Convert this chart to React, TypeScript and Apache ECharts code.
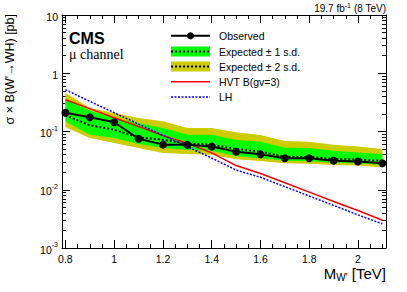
import React, { useEffect, useRef } from "react";
import * as echarts from "echarts";

const masses = [0.8, 0.9, 1.0, 1.1, 1.2, 1.3, 1.4, 1.5, 1.6, 1.7, 1.8, 1.9, 2.0, 2.1];
const observed = [0.21, 0.175, 0.144, 0.075, 0.0595, 0.059, 0.055, 0.045, 0.0405, 0.0347, 0.0347, 0.0316, 0.0305, 0.0285];
const expected = [0.19, 0.128, 0.107, 0.079, 0.072, 0.062, 0.059, 0.05, 0.045, 0.0368, 0.0365, 0.0337, 0.033, 0.0312];
const exp1Lo = [0.15, 0.088, 0.077, 0.061, 0.052, 0.0485, 0.0468, 0.038, 0.0346, 0.0316, 0.031, 0.0292, 0.0285, 0.0266];
const exp1Hi = [0.35, 0.228, 0.17, 0.139, 0.115, 0.088, 0.088, 0.0714, 0.0665, 0.0527, 0.052, 0.0465, 0.0438, 0.0405];
const exp2Lo = [0.118, 0.077, 0.0635, 0.052, 0.0428, 0.0412, 0.04, 0.0335, 0.0313, 0.0285, 0.028, 0.0266, 0.026, 0.0243];
const exp2Hi = [0.46, 0.253, 0.208, 0.17, 0.15, 0.115, 0.115, 0.097, 0.087, 0.069, 0.067, 0.059, 0.055, 0.05];
const hvt = [0.35, 0.247, 0.172, 0.122, 0.085, 0.063, 0.043, 0.026, 0.019, 0.0132, 0.0091, 0.0063, 0.0044, 0.003];
const lh = [0.52, 0.33, 0.21, 0.134, 0.086, 0.055, 0.035, 0.0218, 0.0164, 0.0113, 0.0078, 0.0054, 0.0037, 0.0026];

const xMajorTicks = [0.8, 1, 1.2, 1.4, 1.6, 1.8, 2];
const xMinorTicks = [0.8, 0.85, 0.9, 0.95, 1, 1.05, 1.1, 1.15, 1.2, 1.25, 1.3, 1.35, 1.4, 1.45, 1.5, 1.55, 1.6, 1.65, 1.7, 1.75, 1.8, 1.85, 1.9, 1.95, 2, 2.05, 2.1];
const yDecades = [-3, -2, -1, 0, 1];
const yMinorMantissas = [2, 3, 4, 5, 6, 7, 8, 9];

const FONT = "Liberation Sans";

export default function App() {
  const ref = useRef<HTMLDivElement>(null);
  useEffect(() => {
    if (!ref.current) return;
    const chart = echarts.init(ref.current, undefined, { renderer: "svg" });
    const yMinor: number[] = [];
    yDecades.slice(0, 4).forEach((d) => yMinorMantissas.forEach((m) => yMinor.push(d + Math.log10(m))));

    const band = (lo: number[], hi: number[], color: string, z: number) => ({
      type: "custom",
      coordinateSystem: "cartesian2d",
      xAxisIndex: 0,
      yAxisIndex: 0,
      z,
      silent: true,
      clip: true,
      data: masses.map((m, i) => [m, lo[i], hi[i]]),
      encode: { x: 0, y: [1, 2] },
      renderItem: (params: any, api: any) => {
        if (params.dataIndex !== 0) return null;
        const top = masses.map((m, i) => api.coord([m, hi[i]]));
        const bot = masses.map((m, i) => api.coord([m, lo[i]])).reverse();
        return { type: "polygon", shape: { points: top.concat(bot) }, style: { fill: color } };
      },
    });

    const xBase = { type: "value", min: 0.786, max: 2.115, splitLine: { show: false } };
    const yLinBase = { type: "value", min: -3, max: 1, splitLine: { show: false } };
    const lineStyleAxis = { color: "#000", width: 1 };

    const legendX0 = 171, legendX1 = 210, textX = 219;
    const rows = [35.7, 51.5, 66.5, 81.7, 97];
    const legendText = (y: number, s: string) => ({
      type: "text", x: textX, y, style: { text: s, font: `10.5px '${FONT}'`, fill: "#000", verticalAlign: "middle" },
    });

    chart.setOption({
      animation: false,
      grid: { left: 62, right: 21, top: 15, bottom: 44, containLabel: false, outerBoundsMode: "none" },
      xAxis: [
        {
          ...xBase, position: "bottom",
          axisLine: { show: true, onZero: false, lineStyle: lineStyleAxis },
          axisTick: { show: true, inside: true, length: 8, customValues: xMajorTicks, lineStyle: lineStyleAxis },
          axisLabel: { show: true, customValues: xMajorTicks, formatter: (v: number) => String(v), fontFamily: FONT, fontSize: 10.5, color: "#000", margin: 5 },
        },
        {
          ...xBase, position: "bottom",
          axisLine: { show: false, onZero: false },
          axisTick: { show: true, inside: true, length: 4, customValues: xMinorTicks, lineStyle: lineStyleAxis },
          axisLabel: { show: false },
        },
        {
          ...xBase, position: "top",
          axisLine: { show: true, onZero: false, lineStyle: lineStyleAxis },
          axisTick: { show: true, inside: true, length: 8, customValues: xMajorTicks, lineStyle: lineStyleAxis },
          axisLabel: { show: false },
        },
        {
          ...xBase, position: "top",
          axisLine: { show: false, onZero: false },
          axisTick: { show: true, inside: true, length: 4, customValues: xMinorTicks, lineStyle: lineStyleAxis },
          axisLabel: { show: false },
        },
      ],
      yAxis: [
        { type: "log", logBase: 10, min: 0.001, max: 10, show: false, splitLine: { show: false }, axisLine: { onZero: false } },
        {
          ...yLinBase, position: "left",
          axisLine: { show: true, onZero: false, lineStyle: lineStyleAxis },
          axisTick: { show: true, inside: true, length: 8, customValues: yDecades, lineStyle: lineStyleAxis },
          axisLabel: {
            show: true, customValues: yDecades, margin: 4, color: "#000",
            formatter: (v: number) => (v === 1 ? "{b|10}" : v === 0 ? "{b|1}" : `{b|10}{s|${v}}`),
            rich: {
              b: { fontFamily: FONT, fontSize: 10.5, lineHeight: 14, verticalAlign: "bottom", color: "#000" },
              s: { fontFamily: FONT, fontSize: 7, lineHeight: 8, verticalAlign: "top", color: "#000" },
            },
          },
        },
        {
          ...yLinBase, position: "left",
          axisLine: { show: false, onZero: false },
          axisTick: { show: true, inside: true, length: 4, customValues: yMinor, lineStyle: lineStyleAxis },
          axisLabel: { show: false },
        },
        {
          ...yLinBase, position: "right",
          axisLine: { show: true, onZero: false, lineStyle: lineStyleAxis },
          axisTick: { show: true, inside: true, length: 8, customValues: yDecades, lineStyle: lineStyleAxis },
          axisLabel: { show: false },
        },
        {
          ...yLinBase, position: "right",
          axisLine: { show: false, onZero: false },
          axisTick: { show: true, inside: true, length: 4, customValues: yMinor, lineStyle: lineStyleAxis },
          axisLabel: { show: false },
        },
      ],
      series: [
        band(exp2Lo, exp2Hi, "#cccc00", 1),
        band(exp1Lo, exp1Hi, "#00ff00", 2),
        {
          type: "line", name: "Expected", xAxisIndex: 0, yAxisIndex: 0, z: 3,
          data: masses.map((m, i) => [m, expected[i]]), showSymbol: false, symbol: "none",
          lineStyle: { color: "#000", width: 2, type: [2, 2] },
        },
        {
          type: "line", name: "HVT", xAxisIndex: 0, yAxisIndex: 0, z: 4,
          data: masses.map((m, i) => [m, hvt[i]]), symbol: "none",
          lineStyle: { color: "#ff0000", width: 1.5 },
        },
        {
          type: "line", name: "LH", xAxisIndex: 0, yAxisIndex: 0, z: 4,
          data: masses.map((m, i) => [m, lh[i]]), symbol: "none",
          lineStyle: { color: "#0000ff", width: 1.5, type: [2, 1.5] },
        },
        {
          type: "line", name: "Observed", xAxisIndex: 0, yAxisIndex: 0, z: 5,
          data: masses.map((m, i) => [m, observed[i]]), symbol: "circle", symbolSize: 8, showSymbol: true,
          itemStyle: { color: "#000" },
          lineStyle: { color: "#000", width: 2 },
        },
      ],
      graphic: [
        {
          type: "text", x: 386, y: 7.5,
          style: {
            text: "{a|19.7 fb}{s|-1}{a| (8 TeV)}", align: "right", verticalAlign: "middle",
            rich: {
              a: { fontFamily: FONT, fontSize: 10, lineHeight: 12, verticalAlign: "bottom", fill: "#000" },
              s: { fontFamily: FONT, fontSize: 7, lineHeight: 7, verticalAlign: "top", fill: "#000" },
            },
          },
        },
        { type: "text", x: 69, y: 38, style: { text: "CMS", font: `bold 16px '${FONT}'`, fill: "#000", verticalAlign: "middle" } },
        { type: "text", x: 69, y: 54, style: { text: "μ channel", font: "14px 'Liberation Serif'", fill: "#000", verticalAlign: "middle" } },
        {
          type: "text", x: 10, y: 14, rotation: Math.PI / 2,
          style: { text: "σ × B(W'→WH) [pb]", font: `12.5px '${FONT}'`, fill: "#000", align: "right", verticalAlign: "middle" },
        },
        {
          type: "text", x: 386, y: 274,
          style: {
            text: "{m|M}{sub|W'}{m| [TeV]}", align: "right", verticalAlign: "middle",
            rich: {
              m: { fontFamily: FONT, fontSize: 15, lineHeight: 16, verticalAlign: "top", fill: "#000" },
              sub: { fontFamily: FONT, fontSize: 10, lineHeight: 10, verticalAlign: "bottom", fill: "#000" },
            },
          },
        },
        // legend
        { type: "line", shape: { x1: legendX0, y1: rows[0], x2: legendX1, y2: rows[0] }, style: { stroke: "#000", lineWidth: 2 } },
        { type: "circle", shape: { cx: (legendX0 + legendX1) / 2, cy: rows[0], r: 3.5 }, style: { fill: "#000" } },
        legendText(rows[0], "Observed"),
        { type: "rect", shape: { x: legendX0, y: rows[1] - 5, width: legendX1 - legendX0, height: 10 }, style: { fill: "#00ff00" } },
        { type: "line", shape: { x1: legendX0, y1: rows[1], x2: legendX1, y2: rows[1] }, style: { stroke: "#000", lineWidth: 2, lineDash: [2, 2] } },
        legendText(rows[1], "Expected ± 1 s.d."),
        { type: "rect", shape: { x: legendX0, y: rows[2] - 5, width: legendX1 - legendX0, height: 10 }, style: { fill: "#cccc00" } },
        { type: "line", shape: { x1: legendX0, y1: rows[2], x2: legendX1, y2: rows[2] }, style: { stroke: "#000", lineWidth: 2, lineDash: [2, 2] } },
        legendText(rows[2], "Expected ± 2 s.d."),
        { type: "line", shape: { x1: legendX0, y1: rows[3], x2: legendX1, y2: rows[3] }, style: { stroke: "#ff0000", lineWidth: 1.5 } },
        legendText(rows[3], "HVT B(gv=3)"),
        { type: "line", shape: { x1: legendX0, y1: rows[4], x2: legendX1, y2: rows[4] }, style: { stroke: "#0000ff", lineWidth: 1.5, lineDash: [2, 1.5] } },
        legendText(rows[4], "LH"),
      ],
    });
    return () => chart.dispose();
  }, []);
  return <div ref={ref} style={{ width: 407, height: 292, position: "absolute", left: 0, top: 0 }} />;
}
